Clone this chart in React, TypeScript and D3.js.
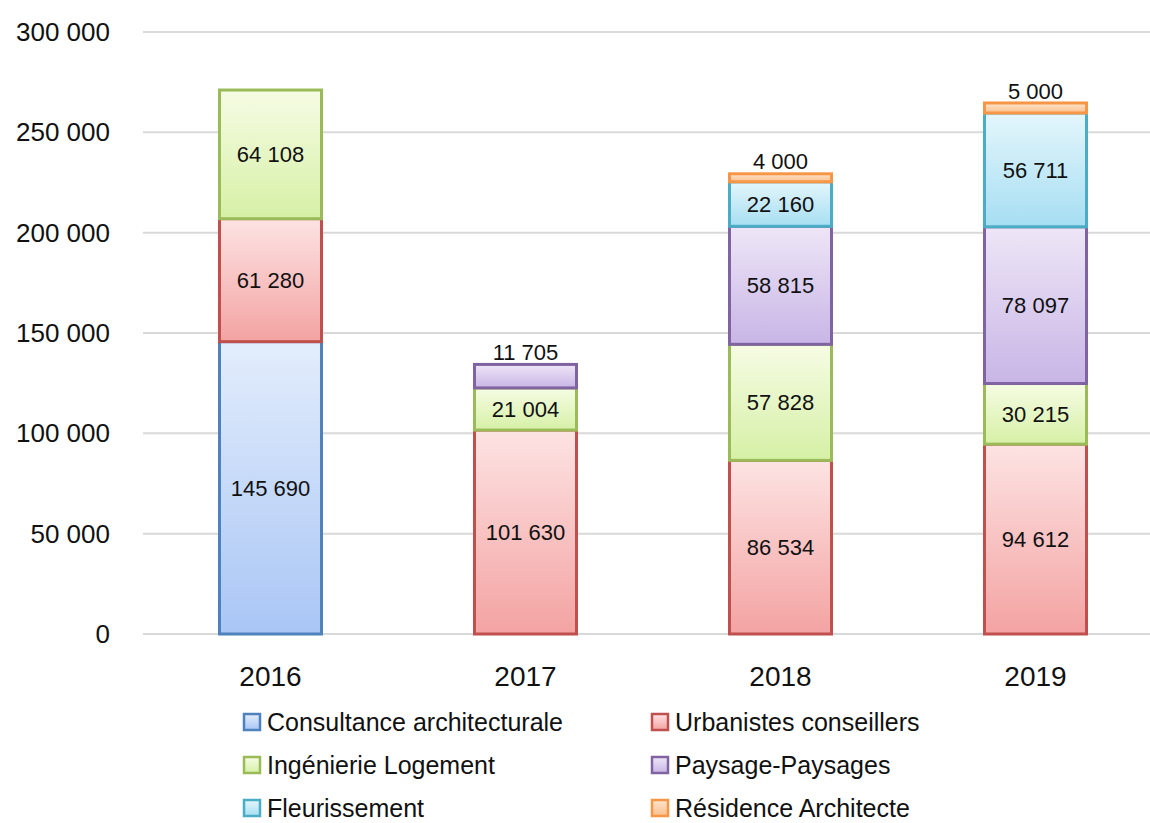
import * as d3 from "d3";
import { useEffect, useRef } from "react";

const years = ["2016", "2017", "2018", "2019"];
const seriesNames = [
  "Consultance architecturale",
  "Urbanistes conseillers",
  "Ingénierie Logement",
  "Paysage-Paysages",
  "Fleurissement",
  "Résidence Architecte",
];
const consultance = [145690, 0, 0, 0];
const urbanistes = [61280, 101630, 86534, 94612];
const ingenierie = [64108, 21004, 57828, 30215];
const paysage = [0, 11705, 58815, 78097];
const fleurissement = [0, 0, 22160, 56711];
const residence = [0, 0, 4000, 5000];
const yTicks = [0, 50000, 100000, 150000, 200000, 250000, 300000];

// border, gradient top, gradient bottom
const palette = [
  ["#4f81bd", "#e3edfc", "#a9c6f5"],
  ["#c0504d", "#fde3e3", "#f3a3a2"],
  ["#9bbb59", "#f6fce4", "#d6f0a6"],
  ["#8064a2", "#eee6f7", "#c8b5e6"],
  ["#4bacc6", "#e4f6fc", "#a6def2"],
  ["#f79646", "#fde4cc", "#fbbf8c"],
];

const fmt = (v: number) => d3.format(",")(v).replace(/,/g, " ");

export default function App() {
  const svgRef = useRef<SVGSVGElement>(null);

  useEffect(() => {
    const W = 1150;
    const H = 823;
    const svg = d3.select(svgRef.current);
    svg.selectAll("*").remove();
    svg.attr("width", W).attr("height", H).style("background", "#fff");

    const font = "'Liberation Sans', Arial, sans-serif";
    const allSeries = [consultance, urbanistes, ingenierie, paysage, fleurissement, residence];

    const x = d3.scaleBand().domain(years).range([143, 1163]).paddingInner(0.6).paddingOuter(0.3);
    const y = d3.scaleLinear().domain([0, 300000]).range([634, 32]);

    const defs = svg.append("defs");
    palette.forEach((p, i) => {
      const g = defs
        .append("linearGradient")
        .attr("id", "grad" + i)
        .attr("x1", 0)
        .attr("y1", 0)
        .attr("x2", 0)
        .attr("y2", 1);
      g.append("stop").attr("offset", "0%").attr("stop-color", p[1]);
      g.append("stop").attr("offset", "100%").attr("stop-color", p[2]);
    });

    // grid
    svg
      .append("g")
      .selectAll("line")
      .data(yTicks)
      .join("line")
      .attr("x1", 143)
      .attr("x2", W)
      .attr("y1", (d) => y(d))
      .attr("y2", (d) => y(d))
      .attr("stroke", "#d9d9d9")
      .attr("stroke-width", 2);

    svg
      .append("g")
      .selectAll("text")
      .data(yTicks)
      .join("text")
      .attr("x", 110)
      .attr("y", (d) => y(d))
      .attr("dy", "0.35em")
      .attr("text-anchor", "end")
      .style("font-family", font)
      .style("font-size", "26px")
      .attr("fill", "#111")
      .text((d) => fmt(d));

    const keys = seriesNames.map((_, i) => String(i));
    const table = years.map((yr, j) => {
      const row: Record<string, number | string> = { year: yr };
      allSeries.forEach((s, i) => (row[String(i)] = s[j]));
      return row;
    });
    const stacked = d3.stack<Record<string, number | string>>().keys(keys)(table as any);

    const bars = svg.append("g");
    const labels = svg.append("g");
    stacked.forEach((layer, i) => {
      layer.forEach((seg, j) => {
        const v = seg[1] - seg[0];
        if (v <= 0) return;
        const yr = years[j];
        const x0 = x(yr)!;
        bars
          .append("rect")
          .attr("x", x0)
          .attr("width", x.bandwidth())
          .attr("y", y(seg[1]))
          .attr("height", y(seg[0]) - y(seg[1]))
          .attr("fill", `url(#grad${i})`)
          .attr("stroke", palette[i][0])
          .attr("stroke-width", 3);

        const isTop = stacked.slice(i + 1).every((l) => l[j][1] - l[j][0] <= 0);
        const outside = isTop && v < 15000;
        labels
          .append("text")
          .attr("x", x0 + x.bandwidth() / 2)
          .attr("y", outside ? y(seg[1]) - 12 : (y(seg[0]) + y(seg[1])) / 2)
          .attr("dy", "0.35em")
          .attr("text-anchor", "middle")
          .style("font-family", font)
          .style("font-size", "22px")
          .attr("fill", "#111")
          .text(fmt(v));
      });
    });

    svg
      .append("g")
      .selectAll("text")
      .data(years)
      .join("text")
      .attr("x", (d) => x(d)! + x.bandwidth() / 2)
      .attr("y", 676)
      .attr("dy", "0.35em")
      .attr("text-anchor", "middle")
      .style("font-family", font)
      .style("font-size", "28px")
      .attr("fill", "#111")
      .text((d) => d);

    // legend
    const legend = svg.append("g");
    seriesNames.forEach((name, i) => {
      const col = i % 2;
      const row = Math.floor(i / 2);
      const lx = col === 0 ? 244 : 652;
      const ly = 722 + row * 43;
      const item = legend.append("g").attr("transform", `translate(${lx},${ly})`);
      item
        .append("rect")
        .attr("x", 0)
        .attr("y", -8)
        .attr("width", 16)
        .attr("height", 16)
        .attr("fill", `url(#grad${i})`)
        .attr("stroke", palette[i][0])
        .attr("stroke-width", 2.5);
      item
        .append("text")
        .attr("x", 23)
        .attr("y", 0)
        .attr("dy", "0.35em")
        .style("font-family", font)
        .style("font-size", "25px")
        .attr("fill", "#111")
        .text(name);
    });
  }, []);

  return (
    <div>
      <svg ref={svgRef} style={{ position: "absolute", left: 0, top: 0, display: "block" }} />
    </div>
  );
}
